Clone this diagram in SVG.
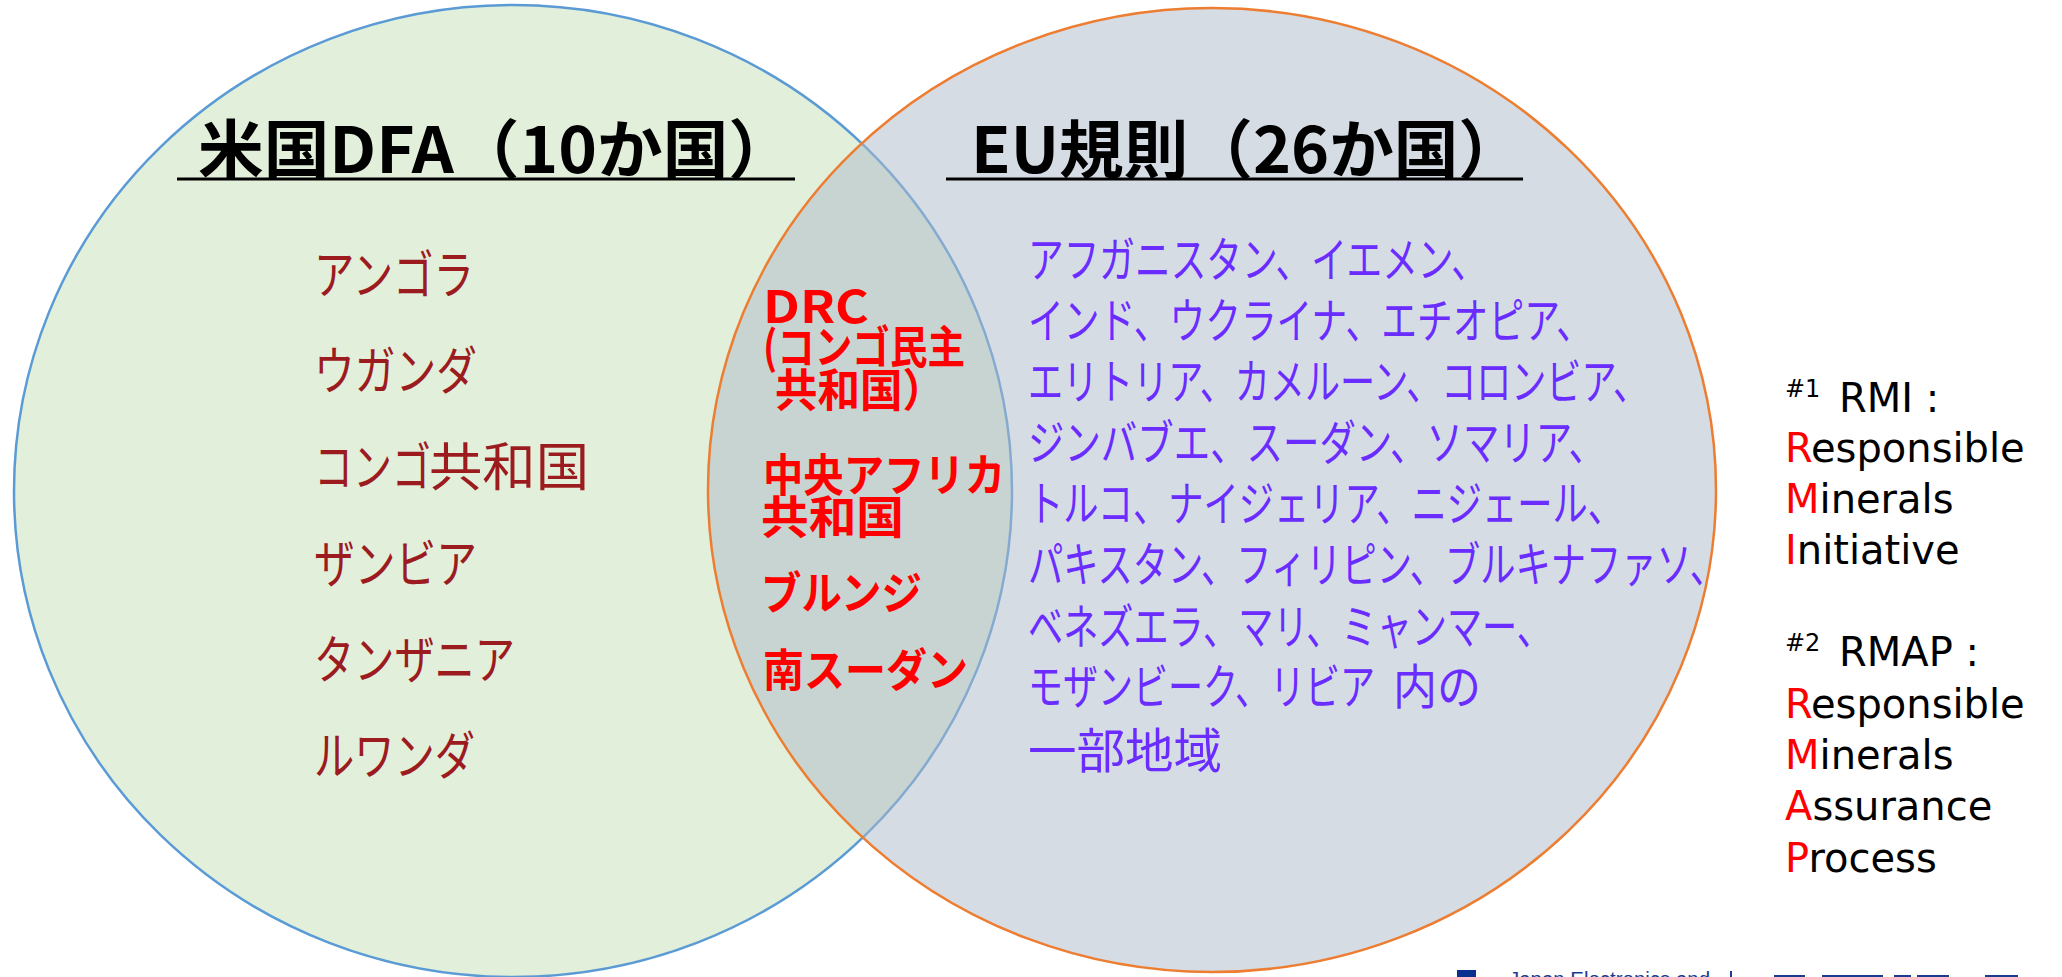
<svg xmlns="http://www.w3.org/2000/svg" width="2062" height="977" viewBox="0 0 2062 977">
<style>
.title{font-family:"Noto Sans CJK JP","Noto Sans CJK SC",sans-serif;font-weight:700;font-size:64px;fill:#000}
.brown{font-family:"Noto Sans CJK JP",sans-serif;font-size:52px;fill:#9B1B1F}
.red{font-family:"Noto Sans CJK JP",sans-serif;font-weight:700;font-size:45px;fill:#FF0000}
.purple{font-family:"Noto Sans CJK JP",sans-serif;font-size:48px;fill:#6A2CFF}
.note{font-family:"DejaVu Sans",sans-serif;font-size:40px;fill:#000}
.sup{font-size:24px}
.hl{fill:#FF0000}
.ul{stroke:#000;stroke-width:3}
</style>
<g id="set-us">
<ellipse cx="513" cy="491" rx="499" ry="486" fill="#E2EFDA" stroke="#5B9BD5" stroke-width="2.5"/>
</g>
<g id="set-eu">
<ellipse cx="1212" cy="490" rx="504" ry="482" fill="#ADB9CA" fill-opacity="0.5" stroke="#ED7D31" stroke-width="2.5"/>
</g>
<g id="title-us">
<text class="title" x="198" y="173" textLength="596" lengthAdjust="spacingAndGlyphs">米国DFA（10か国）</text>
<line class="ul" x1="177" y1="179" x2="795" y2="179"/>
</g>
<g id="title-eu">
<text class="title" x="971" y="173" textLength="552" lengthAdjust="spacingAndGlyphs">EU規則（26か国）</text>
<line class="ul" x1="946" y1="179" x2="1523" y2="179"/>
</g>
<g id="list-us">
<text class="brown" x="314" y="294" textLength="160" lengthAdjust="spacingAndGlyphs">アンゴラ</text>
<text class="brown" x="314" y="390" textLength="163" lengthAdjust="spacingAndGlyphs">ウガンダ</text>
<text class="brown" x="314" y="486" textLength="117" lengthAdjust="spacingAndGlyphs">コンゴ</text>
<text class="brown" x="429" y="486" textLength="160" lengthAdjust="spacingAndGlyphs">共和国</text>
<text class="brown" x="314" y="583" textLength="163" lengthAdjust="spacingAndGlyphs">ザンビア</text>
<text class="brown" x="314" y="679" textLength="201" lengthAdjust="spacingAndGlyphs">タンザニア</text>
<text class="brown" x="314" y="775" textLength="161" lengthAdjust="spacingAndGlyphs">ルワンダ</text>
</g>
<g id="list-both">
<text class="red" x="763" y="323" textLength="106" lengthAdjust="spacingAndGlyphs">DRC</text>
<text class="red" x="763" y="364" textLength="202" lengthAdjust="spacingAndGlyphs">(コンゴ民主</text>
<text class="red" x="775" y="407" textLength="170" lengthAdjust="spacingAndGlyphs">共和国）</text>
<text class="red" x="763" y="492" textLength="242" lengthAdjust="spacingAndGlyphs">中央アフリカ</text>
<text class="red" x="761" y="534" textLength="143" lengthAdjust="spacingAndGlyphs">共和国</text>
<text class="red" x="761" y="610" textLength="161" lengthAdjust="spacingAndGlyphs">ブルンジ</text>
<text class="red" x="763" y="687" textLength="205" lengthAdjust="spacingAndGlyphs">南スーダン</text>
</g>
<g id="list-eu">
<text class="purple" x="1028" y="277" textLength="459" lengthAdjust="spacingAndGlyphs">アフガニスタン、イエメン、</text>
<text class="purple" x="1028" y="338" textLength="564" lengthAdjust="spacingAndGlyphs">インド、ウクライナ、エチオピア、</text>
<text class="purple" x="1028" y="399" textLength="620" lengthAdjust="spacingAndGlyphs">エリトリア、カメルーン、コロンビア、</text>
<text class="purple" x="1028" y="460" textLength="577" lengthAdjust="spacingAndGlyphs">ジンバブエ、スーダン、ソマリア、</text>
<text class="purple" x="1028" y="521" textLength="595" lengthAdjust="spacingAndGlyphs">トルコ、ナイジェリア、ニジェール、</text>
<text class="purple" x="1028" y="582" textLength="697" lengthAdjust="spacingAndGlyphs">パキスタン、フィリピン、ブルキナファソ、</text>
<text class="purple" x="1028" y="644" textLength="524" lengthAdjust="spacingAndGlyphs">ベネズエラ、マリ、ミャンマー、</text>
<text class="purple" x="1028" y="704" textLength="347" lengthAdjust="spacingAndGlyphs">モザンビーク、リビア</text>
<text class="purple" x="1393" y="704" textLength="88" lengthAdjust="spacingAndGlyphs">内の</text>
<text class="purple" x="1028" y="768" textLength="194" lengthAdjust="spacingAndGlyphs">一部地域</text>
</g>
<g id="notes">
<text class="note"><tspan class="sup" x="1785" y="397">#1</tspan><tspan x="1839" y="412">RMI :</tspan></text>
<text class="note" x="1785" y="462"><tspan class="hl">R</tspan>esponsible</text>
<text class="note" x="1785" y="513"><tspan class="hl">M</tspan>inerals</text>
<text class="note" x="1785" y="564"><tspan class="hl">I</tspan>nitiative</text>
<text class="note"><tspan class="sup" x="1785" y="651">#2</tspan><tspan x="1839" y="666">RMAP :</tspan></text>
<text class="note" x="1785" y="718"><tspan class="hl">R</tspan>esponsible</text>
<text class="note" x="1785" y="769"><tspan class="hl">M</tspan>inerals</text>
<text class="note" x="1785" y="820"><tspan class="hl">A</tspan>ssurance</text>
<text class="note" x="1785" y="872"><tspan class="hl">P</tspan>rocess</text>
</g>
<g id="logo">
<rect x="1457" y="970" width="19" height="10" fill="#0B318F"/>
<text x="1509" y="986" font-family="Liberation Sans, sans-serif" font-size="20" fill="#1A3C8E" textLength="201" lengthAdjust="spacingAndGlyphs">Japan Electronics and</text>
<rect x="1730" y="971" width="2" height="8" fill="#1A3C8E"/>
<rect x="1774" y="975" width="31" height="4" fill="#1A3C8E"/>
<rect x="1822" y="975" width="61" height="4" fill="#1A3C8E"/>
<rect x="1894" y="975" width="17" height="4" fill="#1A3C8E"/>
<rect x="1917" y="975" width="32" height="4" fill="#1A3C8E"/>
<rect x="1985" y="975" width="33" height="4" fill="#1A3C8E"/>
</g>
</svg>
